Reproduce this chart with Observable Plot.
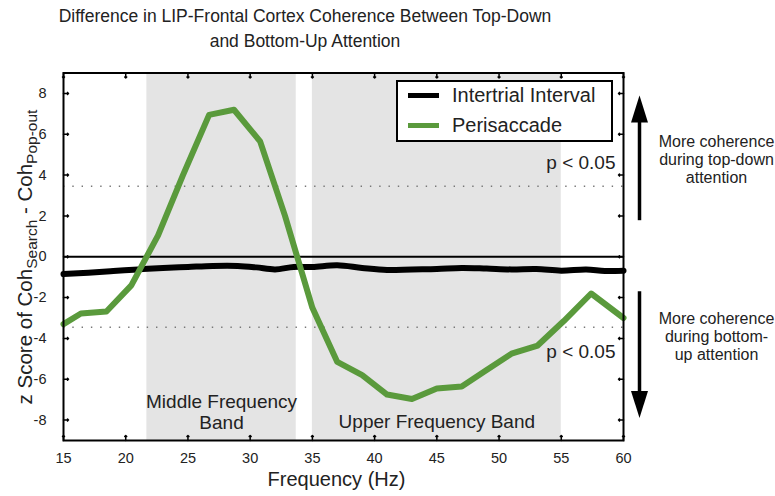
<!DOCTYPE html>
<html>
<head>
<meta charset="utf-8">
<script src="https://cdn.jsdelivr.net/npm/d3@7"></script>
<script src="https://cdn.jsdelivr.net/npm/@observablehq/plot@0.6"></script>
<style>
  body { margin: 0; background: #fff; }
  #wrap { position: relative; width: 775px; height: 496px; font-family: "Liberation Sans", Arial, Helvetica, sans-serif; color: #222; overflow: hidden; }
  #title { position: absolute; left: 0; top: 4px; width: 610px; text-align: center; font-size: 17.5px; line-height: 25px; }
  #chart { position: absolute; left: 0; top: 60px; }
  #legend { position: absolute; left: 396px; top: 80px; width: 213px; height: 58px; border: 2px solid #000; background: #fff; }
  .lg-swatch { position: absolute; left: 10px; width: 31px; height: 5px; }
  .lg-text { position: absolute; left: 54px; font-size: 20px; line-height: 23px; white-space: nowrap; }
</style>
</head>
<body>
<div id="wrap">
  <div id="title">Difference in LIP-Frontal Cortex Coherence Between Top-Down<br>and Bottom-Up Attention</div>
  <div id="chart"></div>
  <div id="legend"></div>
</div>
<script>
// ---- data ----
const seriesNames = ["Intertrial Interval", "Perisaccade"];
const seriesColors = ["#000000", "#5a9a3c"];

const freqIntertrial = [15, 17, 19, 21, 23, 25, 27, 29, 30.5, 32, 33.5, 35, 37, 39, 41, 43, 45, 47, 49, 51, 53, 55, 57, 58.5, 60];
const zIntertrial = [-0.85, -0.78, -0.7, -0.62, -0.55, -0.5, -0.45, -0.45, -0.52, -0.62, -0.5, -0.5, -0.42, -0.55, -0.65, -0.62, -0.6, -0.55, -0.58, -0.62, -0.6, -0.68, -0.62, -0.7, -0.68];

const freqPerisaccade = [15, 16.4, 18.45, 20.45, 22.6, 24.6, 26.7, 28.7, 30.8, 32.8, 35.0, 37.0, 39.0, 41.0, 43.0, 45.0, 47.0, 49.0, 51.0, 53.1, 55.2, 57.4, 60];
const zPerisaccade = [-3.3, -2.78, -2.68, -1.4, 1.05, 4.0, 6.95, 7.2, 5.65, 2.0, -2.5, -5.15, -5.8, -6.75, -6.97, -6.45, -6.35, -5.55, -4.75, -4.35, -3.15, -1.8, -3.0];

const bandNames = ["Middle Frequency\nBand", "Upper Frequency Band"];
const bandStart = [21.7, 35.0];
const bandEnd = [33.7, 55.0];
const bandLabelY = [-7.6, -8.07];

const pThresholds = [3.45, -3.45];
const pLabelY = [4.6, -4.65];
const pLabel = "p < 0.05";

const xTicks = [15, 20, 25, 30, 35, 40, 45, 50, 55, 60];
const yTicks = [-8, -6, -4, -2, 0, 2, 4, 6, 8];

const noteTexts = ["More coherence\nduring top-down\nattention", "More coherence\nduring bottom-\nup attention"];
const noteY = [4.77, -3.9];
const arrowTail = [1.79, -1.69];
const arrowShaftEnd = [6.8, -6.8];
const arrowTip = [7.9, -7.9];

// ---- tables ----
const intertrial = freqIntertrial.map((f, i) => ({f, z: zIntertrial[i]}));
const perisaccade = freqPerisaccade.map((f, i) => ({f, z: zPerisaccade[i]}));
const bands = bandNames.map((name, i) => ({name, x1: bandStart[i], x2: bandEnd[i], mid: (bandStart[i] + bandEnd[i]) / 2, ly: bandLabelY[i]}));
const notes = noteTexts.map((t, i) => ({t, y: noteY[i], tail: arrowTail[i], shaftEnd: arrowShaftEnd[i], tip: arrowTip[i]}));

const headUp = { draw(ctx) { ctx.moveTo(0, 0); ctx.lineTo(8.5, 27); ctx.lineTo(-8.5, 27); ctx.closePath(); } };
const headDown = { draw(ctx) { ctx.moveTo(0, 0); ctx.lineTo(8.5, -27); ctx.lineTo(-8.5, -27); ctx.closePath(); } };

const font = "Liberation Sans, Arial, Helvetica, sans-serif";

const chart = Plot.plot({
  width: 775,
  height: 436,
  marginLeft: 63,
  marginRight: 152,
  marginTop: 12.5,
  marginBottom: 56,
  style: { fontFamily: font, color: "#222", background: "transparent", overflow: "visible" },
  x: { domain: [15, 60] },
  y: { domain: [-9, 9] },
  marks: [
    Plot.rect(bands, { x1: "x1", x2: "x2", fill: "#e4e4e4" }),
    Plot.ruleY(pThresholds, { stroke: "#777", strokeWidth: 1.6, strokeDasharray: "1.4,7.9" }),
    Plot.ruleY([0], { stroke: "#000", strokeWidth: 2 }),
    Plot.line(intertrial, { x: "f", y: "z", stroke: seriesColors[0], strokeWidth: 6, curve: "catmull-rom" }),
    Plot.line(perisaccade, { x: "f", y: "z", stroke: seriesColors[1], strokeWidth: 6, strokeLinejoin: "round" }),
    // band labels
    Plot.text(bands, { x: "mid", y: "ly", text: "name", fontSize: 19, lineHeight: 1.12, fill: "#222" }),
    // p labels
    Plot.text(pLabelY, { y: d => d, text: () => pLabel, frameAnchor: "right", textAnchor: "end", dx: -8, fontSize: 19, fill: "#222" }),
    // ticks (inward on all sides)
    Plot.vector(yTicks, { y: d => d, frameAnchor: "left", length: 5, rotate: 90, anchor: "start", stroke: "#000", strokeWidth: 1.5 }),
    Plot.vector(yTicks, { y: d => d, frameAnchor: "right", length: 5, rotate: -90, anchor: "start", stroke: "#000", strokeWidth: 1.5 }),
    Plot.vector(xTicks, { x: d => d, frameAnchor: "bottom", length: 5, rotate: 0, anchor: "start", stroke: "#000", strokeWidth: 1.5 }),
    Plot.vector(xTicks, { x: d => d, frameAnchor: "top", length: 5, rotate: 180, anchor: "start", stroke: "#000", strokeWidth: 1.5 }),
    Plot.axisX(xTicks, { anchor: "bottom", tickSize: 0, tickPadding: 12, fontSize: 14.5, label: null }),
    Plot.axisY(yTicks, { anchor: "left", tickSize: 0, tickPadding: 17, fontSize: 14.5, label: null, tickFormat: d => String(d) }),
    Plot.frame({ stroke: "#000", strokeWidth: 2 }),
    Plot.text(["Frequency (Hz)"], { frameAnchor: "bottom", dy: 45, dx: -7, fontSize: 20, fill: "#222" }),
    // right-side notes and arrows
    Plot.text(notes, { y: "y", text: "t", frameAnchor: "right", textAnchor: "middle", dx: 93, fontSize: 16, lineHeight: 1.1, fill: "#222" }),
    Plot.link(notes, { x1: () => 60, x2: () => 60, y1: "tail", y2: "shaftEnd", dx: 16, stroke: "#000", strokeWidth: 3.5 }),
    Plot.dot(notes.slice(0, 1), { x: () => 60, y: "tip", dx: 16, symbol: headUp, fill: "#000", stroke: "none" }),
    Plot.dot(notes.slice(1), { x: () => 60, y: "tip", dx: 16, symbol: headDown, fill: "#000", stroke: "none" })
  ]
});

// y-axis label with subscripts
const svg = d3.select(chart.tagName.toLowerCase() === "svg" ? chart : chart.querySelector("svg"));
const ylab = svg.append("text")
  .attr("transform", "translate(32,197) rotate(-90)")
  .attr("text-anchor", "middle")
  .attr("font-size", 20.5)
  .attr("fill", "#222")
  .attr("font-family", font);
ylab.append("tspan").text("z Score of Coh");
ylab.append("tspan").attr("font-size", 15.5).attr("dy", 5).text("Search");
ylab.append("tspan").attr("dy", -5).text(" - Coh");
ylab.append("tspan").attr("font-size", 15.5).attr("dy", 5).text("Pop-out");

document.getElementById("chart").appendChild(chart);

// legend
const legend = document.getElementById("legend");
const rowCenters = [13, 43];
seriesNames.forEach((name, i) => {
  const sw = document.createElement("div");
  sw.className = "lg-swatch";
  sw.style.top = (rowCenters[i] - 2.5) + "px";
  sw.style.background = seriesColors[i];
  legend.appendChild(sw);
  const tx = document.createElement("div");
  tx.className = "lg-text";
  tx.style.top = (rowCenters[i] - 11.5) + "px";
  tx.textContent = name;
  legend.appendChild(tx);
});
</script>
</body>
</html>
